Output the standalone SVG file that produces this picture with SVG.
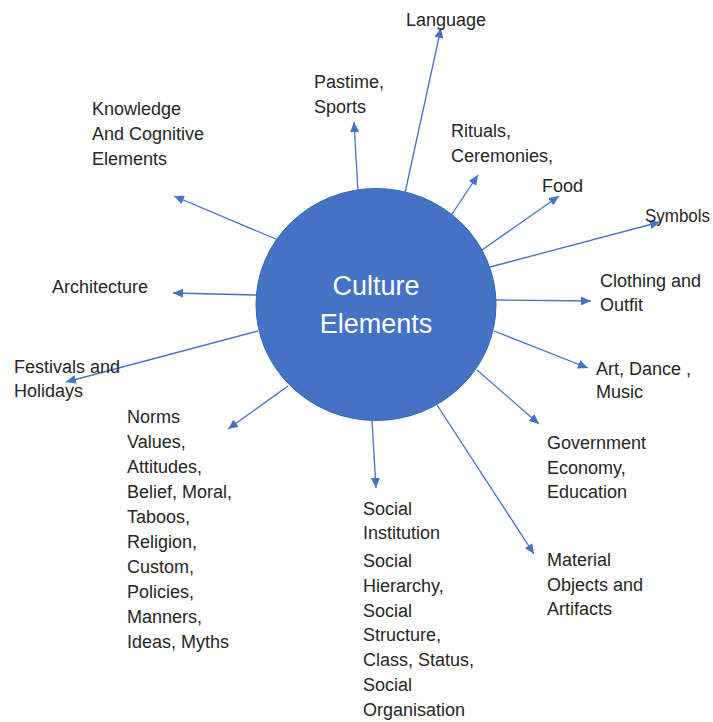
<svg xmlns="http://www.w3.org/2000/svg" width="713" height="722" viewBox="0 0 713 722">
<style>
.lbl{font-family:"Liberation Sans",Arial,sans-serif;font-size:18px;fill:#262626}
.ctr{font-family:"Liberation Sans",Arial,sans-serif;font-size:27px;fill:#ffffff;text-anchor:middle}
.con{stroke:#4472C4;stroke-width:1.3;fill:none;marker-end:url(#ah)}
</style>
<defs>
<marker id="ah" markerUnits="userSpaceOnUse" markerWidth="11" markerHeight="9" refX="10" refY="4.5" orient="auto">
<path d="M0,0 L10,4.5 L0,9 z" fill="#4472C4"/>
</marker>
</defs>
<rect width="713" height="722" fill="#ffffff"/>
<g id="connectors">
<line class="con" x1="405" y1="193" x2="441" y2="28"/>
<line class="con" x1="358" y1="192" x2="354" y2="122"/>
<line class="con" x1="278" y1="240" x2="174" y2="196"/>
<line class="con" x1="452" y1="214" x2="478" y2="175"/>
<line class="con" x1="482" y1="250" x2="559" y2="196"/>
<line class="con" x1="490" y1="267" x2="660" y2="222"/>
<line class="con" x1="496" y1="300" x2="591" y2="301"/>
<line class="con" x1="494" y1="331" x2="588" y2="368"/>
<line class="con" x1="477" y1="370" x2="539" y2="424"/>
<line class="con" x1="437" y1="405" x2="534" y2="554"/>
<line class="con" x1="372" y1="420" x2="376" y2="488"/>
<line class="con" x1="288" y1="386" x2="228" y2="429"/>
<line class="con" x1="258" y1="331" x2="66" y2="382"/>
<line class="con" x1="257" y1="295" x2="173" y2="293"/>
</g>
<g id="center">
<ellipse cx="376" cy="304.5" rx="120" ry="116" fill="#4472C4" stroke="#3A64B0" stroke-width="1"/>
<text class="ctr" x="376" y="295">Culture</text>
<text class="ctr" x="376" y="333">Elements</text>
</g>
<g id="language"><text class="lbl" x="406" y="26">Language</text></g>
<g id="pastime"><text class="lbl" x="314" y="88">Pastime,</text><text class="lbl" x="314" y="113">Sports</text></g>
<g id="knowledge"><text class="lbl" x="92" y="115">Knowledge</text><text class="lbl" x="92" y="140">And Cognitive</text><text class="lbl" x="92" y="165">Elements</text></g>
<g id="rituals"><text class="lbl" x="451" y="137">Rituals,</text><text class="lbl" x="451" y="162">Ceremonies,</text></g>
<g id="food"><text class="lbl" x="542" y="192">Food</text></g>
<g id="symbols"><text class="lbl" x="645" y="222" textLength="65" lengthAdjust="spacingAndGlyphs">Symbols</text></g>
<g id="clothing"><text class="lbl" x="600" y="287">Clothing and</text><text class="lbl" x="600" y="311">Outfit</text></g>
<g id="art"><text class="lbl" x="596" y="375">Art, Dance ,</text><text class="lbl" x="596" y="398">Music</text></g>
<g id="government"><text class="lbl" x="547" y="449">Government</text><text class="lbl" x="547" y="474">Economy,</text><text class="lbl" x="547" y="498">Education</text></g>
<g id="material"><text class="lbl" x="547" y="566">Material</text><text class="lbl" x="547" y="591">Objects and</text><text class="lbl" x="547" y="615">Artifacts</text></g>
<g id="social"><text class="lbl" x="363" y="515">Social</text><text class="lbl" x="363" y="539">Institution</text><text class="lbl" x="363" y="567">Social</text><text class="lbl" x="363" y="592">Hierarchy,</text><text class="lbl" x="363" y="617">Social</text><text class="lbl" x="363" y="641">Structure,</text><text class="lbl" x="363" y="666">Class, Status,</text><text class="lbl" x="363" y="691">Social</text><text class="lbl" x="363" y="716">Organisation</text></g>
<g id="norms"><text class="lbl" x="127" y="423">Norms</text><text class="lbl" x="127" y="448">Values,</text><text class="lbl" x="127" y="473">Attitudes,</text><text class="lbl" x="127" y="498">Belief, Moral,</text><text class="lbl" x="127" y="523">Taboos,</text><text class="lbl" x="127" y="548">Religion,</text><text class="lbl" x="127" y="573">Custom,</text><text class="lbl" x="127" y="598">Policies,</text><text class="lbl" x="127" y="623">Manners,</text><text class="lbl" x="127" y="648">Ideas, Myths</text></g>
<g id="festivals"><text class="lbl" x="14" y="373">Festivals and</text><text class="lbl" x="14" y="397">Holidays</text></g>
<g id="architecture"><text class="lbl" x="52" y="293">Architecture</text></g>
</svg>
